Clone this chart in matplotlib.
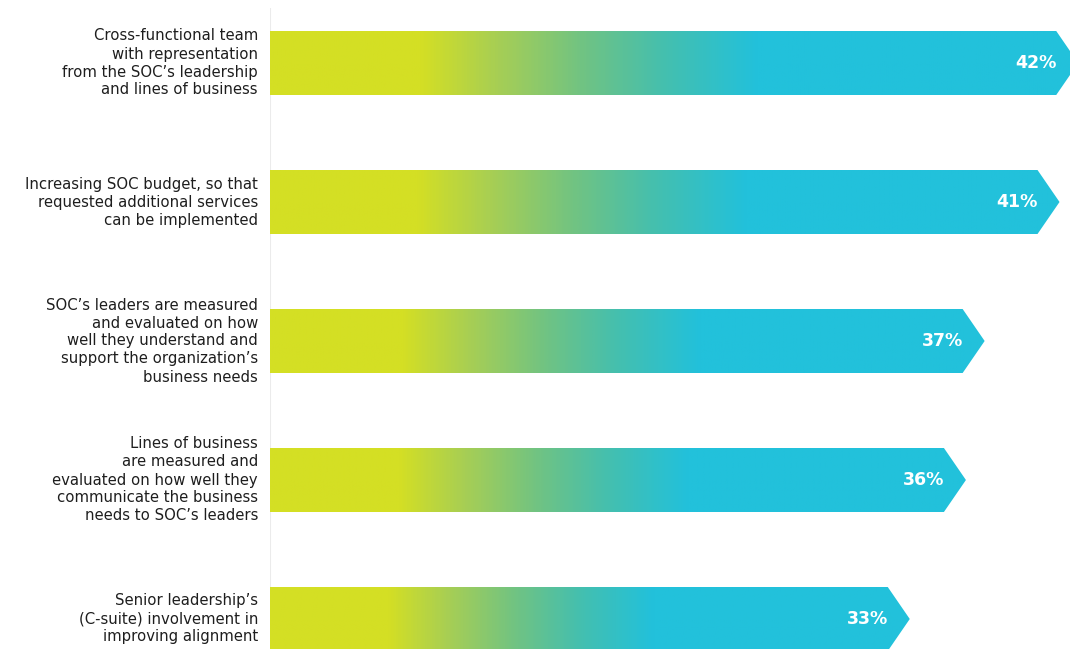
import numpy as np
import matplotlib
matplotlib.use("Agg")
import matplotlib.pyplot as plt
from matplotlib.colors import LinearSegmentedColormap
from matplotlib.patches import Polygon

categories = [
    "Cross-functional team\nwith representation\nfrom the SOC\u2019s leadership\nand lines of business",
    "Increasing SOC budget, so that\nrequested additional services\ncan be implemented",
    "SOC\u2019s leaders are measured\nand evaluated on how\nwell they understand and\nsupport the organization\u2019s\nbusiness needs",
    "Lines of business\nare measured and\nevaluated on how well they\ncommunicate the business\nneeds to SOC\u2019s leaders",
    "Senior leadership\u2019s\n(C-suite) involvement in\nimproving alignment",
]
values = [42, 41, 37, 36, 33]
value_labels = ["42%", "41%", "37%", "36%", "33%"]

YELLOW = "#D4DF24"
CYAN = "#22C1DB"
grad = LinearSegmentedColormap.from_list(
    "soc", [(0.0, YELLOW), (0.19, YELLOW), (0.29, "#A6CE55"),
            (0.40, "#6FC384"), (0.50, "#45BFAE"), (0.62, CYAN), (1.0, CYAN)]
)

W, H, DPI = 1070, 649, 100
fig = plt.figure(figsize=(W / DPI, H / DPI), dpi=DPI)
fig.patch.set_facecolor("white")

ax_left = 270 / W
ax = fig.add_axes([ax_left, 0, 1 - ax_left, 1])
px_per_unit = 18.72
xmax = (W - 270) / px_per_unit
ax.set_xlim(0, xmax)
step = 139.0
top_center = 63.0
ax.set_ylim((H - top_center) / step, -top_center / step)
ax.axis("off")

bar_h = 64 / step
tip = 22 / px_per_unit

# light vertical baseline
ax.plot([0, 0], [-(top_center - 8) / step, (H - top_center) / step], color="#EBEBEB",
        lw=1.5, zorder=1, solid_capstyle="butt")

for i, (v, lab) in enumerate(zip(values, value_labels)):
    y0, y1 = i - bar_h / 2, i + bar_h / 2
    poly = Polygon([(0, y0), (v, y0), (v + tip, i), (v, y1), (0, y1)],
                   closed=True, facecolor="none", edgecolor="none")
    ax.add_patch(poly)
    xs = np.linspace(0, v + tip, 600)
    g = np.clip(xs / v, 0, 1)[None, :]
    im = ax.imshow(g, cmap=grad, vmin=0, vmax=1, aspect="auto",
                   extent=(0, v + tip, y1, y0), interpolation="bilinear", zorder=2)
    im.set_clip_path(poly)
    ax.text(v, i, lab, ha="right", va="center", color="white", fontsize=12.5,
            fontweight="bold", family="DejaVu Sans", zorder=3)

for i, cat in enumerate(categories):
    ax.annotate(cat, xy=(0, i), xytext=(-12, 0), textcoords="offset pixels",
                ha="right", va="center", fontsize=10.7, color="#1E1E1E",
                linespacing=1.25, family="DejaVu Sans", annotation_clip=False)

fig.savefig("out.png", dpi=DPI, facecolor="white")
